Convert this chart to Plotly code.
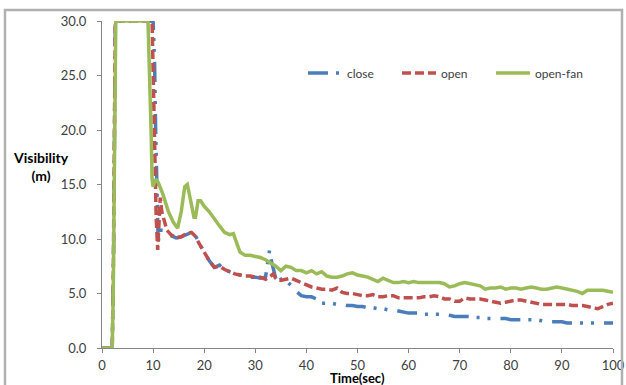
import plotly.graph_objects as go

# ---- data ----
close_t = [0, 2, 2.3, 2.5, 2.6, 10.0, 10.3, 10.5, 10.8, 11.0, 11.2, 12.0, 12.7, 13.5, 14.5, 15.5, 16.5, 17.5, 18.2,
           19, 20, 21, 22, 23, 24, 25, 26, 27, 28, 29, 30, 31, 32, 32.5, 32.8, 33.2, 33.7, 34.2, 35, 35.5, 36, 37,
           37.5, 38, 39, 40, 41, 42, 43, 44, 45, 46, 47, 48, 49, 50, 51, 52, 53, 54, 55, 56, 57, 58, 59, 60, 61, 62,
           63, 64, 65, 66, 67, 68, 69, 70, 71, 72, 73, 74, 75, 76, 77, 78, 79, 80, 81, 82, 83, 84, 85, 86, 87, 88,
           89, 90, 91, 92, 93, 94, 95, 96, 97, 98, 99, 100]
close_v = [0, 0, 10, 25, 30, 30, 26, 20, 11, 9.6, 10.8, 10.8, 10.6, 10.3, 10.1, 10.2, 10.4, 10.6, 10.4,
           9.6, 8.8, 8.0, 7.4, 7.6, 7.2, 7.0, 6.8, 6.7, 6.6, 6.5, 6.5, 6.4, 6.5, 8.0, 9.0, 7.9, 7.0, 6.0, 6.3, 6.4, 6.2, 5.8,
           5.5, 5.2, 4.8, 4.7, 4.7, 4.5, 4.1, 4.1, 4.1, 4.0, 4.0, 3.9, 3.9, 3.8, 3.8, 3.7, 3.7, 3.6, 3.6, 3.5, 3.5, 3.4, 3.3, 3.2, 3.2, 3.2,
           3.1, 3.1, 3.1, 3.1, 3.1, 3.0, 2.9, 2.9, 2.9, 2.9, 2.8, 2.8, 2.7, 2.7, 2.7, 2.7, 2.7, 2.6, 2.6, 2.6, 2.6, 2.6, 2.6, 2.5, 2.4, 2.4,
           2.4, 2.4, 2.3, 2.3, 2.3, 2.3, 2.3, 2.3, 2.3, 2.3, 2.3, 2.3]

open_t = [0, 2, 2.2, 2.4, 2.6, 9.8, 10.0, 10.3, 10.6, 10.9, 11.1, 11.4, 11.7, 12.2, 12.7, 13.5, 14.5, 15.5, 16.5, 17.5,
          18.2, 19, 20, 21, 22, 23, 24, 25, 26, 27, 28, 29, 30, 31, 32, 33, 33.5, 34, 35, 36, 37, 38, 39, 40, 41, 42,
          43, 44, 45, 46, 47, 48, 49, 50, 51, 52, 53, 54, 55, 56, 57, 58, 59, 60, 61, 62, 63, 64, 65, 66, 67, 68, 69,
          70, 71, 72, 73, 74, 75, 76, 77, 78, 79, 80, 81, 82, 83, 84, 85, 86, 87, 88, 89, 90, 91, 92, 93, 94, 95, 96,
          97, 98, 99, 100]
open_v = [0, 0, 6, 19, 30, 30, 25, 18, 12, 9.0, 11, 13.8, 12.5, 11.5, 10.8, 10.4, 10.1, 10.2, 10.5, 10.6,
          10.3, 9.6, 8.8, 8.0, 7.4, 7.5, 7.2, 7.0, 6.8, 6.7, 6.6, 6.6, 6.5, 6.5, 6.3, 6.6, 6.8, 6.4, 6.2, 6.3, 6.4, 6.2, 6.0, 5.8, 5.6, 5.5,
          5.4, 5.4, 5.3, 5.5, 5.1, 5.0, 5.0, 4.9, 4.8, 4.8, 4.9, 4.7, 4.7, 4.8, 4.8, 4.6, 4.6, 4.6, 4.6, 4.6, 4.7, 4.7, 4.8, 4.7, 4.5, 4.5, 4.3,
          4.3, 4.6, 4.5, 4.5, 4.5, 4.4, 4.3, 4.2, 4.1, 4.2, 4.3, 4.4, 4.4, 4.3, 4.2, 4.1, 4.0, 4.0, 4.0, 4.0, 4.0, 4.0, 3.9, 3.9, 3.9, 3.8, 3.7,
          3.6, 3.8, 4.0, 4.1]

fan_t = [0, 1, 2, 2.2, 2.5, 2.7, 9.0, 9.3, 9.6, 9.8, 10.0, 10.5, 11.0, 12, 13, 14, 14.8, 15.5, 16.2, 16.7, 17.3, 18.0,
         18.3, 18.8, 19.3, 20, 21, 22, 23, 24, 25, 25.7, 26.2, 27, 28, 29, 30, 31, 32, 33, 34, 35, 36, 37, 38, 39,
         40, 41, 42, 43, 44, 45, 46, 47, 48, 49, 50, 51, 52, 53, 54, 55, 56, 57, 58, 59, 60, 61, 62, 63, 64, 65, 66,
         67, 68, 69, 70, 71, 72, 73, 74, 75, 76, 77, 78, 79, 80, 81, 82, 83, 84, 85, 86, 87, 88, 89, 90, 91, 92, 93,
         94, 95, 96, 97, 98, 99, 100]
fan_v = [0, 0, 0, 5, 25, 30, 30, 26, 20, 15.5, 14.8, 15.5, 15.2, 14, 12.5, 11.5, 11.0, 12.5, 14.8, 15.0, 13.5, 12.0,
         12.0, 13.5, 13.5, 13.0, 12.5, 11.8, 11.2, 10.6, 10.4, 10.5, 9.8, 8.8, 8.5, 8.5, 8.4, 8.3, 8.1, 7.8, 7.5, 7.1, 7.5, 7.4, 7.1, 7.1,
         6.9, 7.1, 6.8, 7.0, 6.6, 6.5, 6.5, 6.6, 6.8, 6.9, 6.7, 6.6, 6.5, 6.3, 6.1, 6.4, 6.2, 6.0, 6.0, 6.1, 6.0, 6.1, 6.0, 6.0, 6.0, 6.0, 6.0,
         5.9, 5.6, 5.7, 5.9, 6.0, 5.9, 5.8, 5.7, 5.4, 5.5, 5.5, 5.6, 5.4, 5.5, 5.5, 5.4, 5.5, 5.6, 5.5, 5.4, 5.4, 5.5, 5.6, 5.5, 5.4, 5.3, 5.2,
         5.0, 5.3, 5.3, 5.3, 5.3, 5.2, 5.1]

x_ticks = [0, 10, 20, 30, 40, 50, 60, 70, 80, 90, 100]
y_ticks = [0, 5, 10, 15, 20, 25, 30]

FONT = "Lato"
W, H = 626, 385
L, R, T, B = 102, 13, 21, 37
PW, PH = W - L - R, H - T - B

fig = go.Figure()
fig.add_trace(go.Scatter(x=close_t, y=close_v, mode="lines", name="close",
                         line=dict(color="#4A7EBB", width=3.5, dash="20px,8px,3px,8px,3px,10px")))
fig.add_trace(go.Scatter(x=open_t, y=open_v, mode="lines", name="open",
                         line=dict(color="#C0504D", width=3.5, dash="9px,4px")))
fig.add_trace(go.Scatter(x=fan_t, y=fan_v, mode="lines", name="open-fan",
                         line=dict(color="#9BBB59", width=3.5)))

axis_common = dict(showgrid=False, zeroline=False, showline=True, linecolor="#868686", linewidth=1,
                   ticks="outside", ticklen=4, tickcolor="#868686",
                   tickfont=dict(family=FONT, size=13, color="#404040"))
fig.update_xaxes(range=[0, 100], tickvals=x_ticks, ticklabelstandoff=1, **axis_common)
fig.update_yaxes(range=[0, 30], tickvals=y_ticks, tickformat=".1f", ticklabelstandoff=8, **axis_common)


def px(xp):
    return (xp - L) / PW


def py(yp):
    return (H - B - yp) / PH


fig.update_layout(
    width=W, height=H,
    margin=dict(l=L, r=R, t=T, b=B, autoexpand=False),
    paper_bgcolor="white", plot_bgcolor="white",
    showlegend=True,
    legend=dict(orientation="h", x=px(303), y=py(73), xanchor="left", yanchor="middle",
                font=dict(family=FONT, size=12, color="#404040"),
                itemwidth=34, entrywidth=45, entrywidthmode="pixels",
                bgcolor="rgba(0,0,0,0)", borderwidth=0),
    shapes=[dict(type="path", xref="paper", yref="paper",
                 path=f"M {px(5)},{py(395)} L {px(5)},{py(10)} L {px(622)},{py(10)} L {px(622)},{py(395)}",
                 line=dict(color="#B0B0B0", width=2.5), layer="above")],
    annotations=[
        dict(text="<b>Visibility</b><br><b>(m)</b>", xref="paper", yref="paper",
             x=px(41), y=py(166), xanchor="center", yanchor="middle", showarrow=False,
             font=dict(family=FONT, size=14, color="black"), align="center"),
        dict(text="<b>Time(sec)</b>", xref="paper", yref="paper",
             x=px(357), y=py(378), xanchor="center", yanchor="middle", showarrow=False,
             font=dict(family=FONT, size=13, color="black")),
    ],
)

fig.write_html("out.html", config={"displayModeBar": False},
               post_script="document.body.style.margin='0';document.body.style.overflow='hidden';")
